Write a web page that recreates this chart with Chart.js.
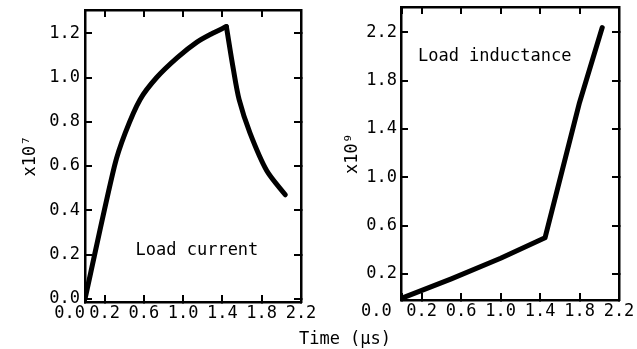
<!DOCTYPE html>
<html>
<head>
<meta charset="utf-8">
<script src="https://cdn.jsdelivr.net/npm/chart.js@4.4.1/dist/chart.umd.min.js"></script>
<style>
  html, body { margin: 0; padding: 0; background: #fff; }
  #wrap { position: relative; width: 637px; height: 349px; overflow: hidden; background: #fff; }
  canvas { position: absolute; top: 0; }
  #cvCurrent { left: 0; }
  #cvInduct { left: 320px; }
  #xTitle {
    position: absolute; top: 328px; left: 345px; transform: translateX(-50%);
    font: 17px 'DejaVu Sans Mono', monospace; line-height: 20px; color: #000; white-space: nowrap;
  }
</style>
</head>
<body>
<div id="wrap">
  <canvas id="cvCurrent" width="320" height="349"></canvas>
  <canvas id="cvInduct" width="317" height="349"></canvas>
  <div id="xTitle">Time (μs)</div>
</div>
<script>
// ─── DATA ─────────────────────────────────────────────────
const X_TICKS = [0.0, 0.2, 0.6, 1.0, 1.4, 1.8, 2.2];

// Load current (x10^7): rising part up to the peak, then the decay
const CURRENT_RISE_T = [0.00, 0.30, 0.41, 0.56, 0.73, 0.94, 1.14, 1.30, 1.44];
const CURRENT_RISE_I = [0.00, 0.60, 0.75, 0.90, 1.00, 1.09, 1.16, 1.20, 1.23];
const CURRENT_FALL_T = [1.44, 1.51, 1.57, 1.68, 1.85, 2.04];
const CURRENT_FALL_I = [1.23, 1.04, 0.90, 0.75, 0.58, 0.47];
const CURRENT_Y_TICKS = [0.0, 0.2, 0.4, 0.6, 0.8, 1.0, 1.2];

// Load inductance (x10^9)
const INDUCT_T = [0.00, 0.50, 1.00, 1.45, 1.80, 2.03];
const INDUCT_L = [0.00, 0.16, 0.33, 0.50, 1.62, 2.24];
const INDUCT_Y_TICKS = [0.2, 0.6, 1.0, 1.4, 1.8, 2.2];

// ─── STYLE ────────────────────────────────────────────────
const FONT = { family: "'DejaVu Sans Mono', monospace", size: 17 };
const INK = '#000';

const fixedTicks = (values) => (scale) => { scale.ticks = values.map(v => ({ value: v })); };
const toPoints = (xs, ys) => xs.map((x, i) => ({ x, y: ys[i] }));

// force an axis to an exact size and drop the label-overflow padding
const fixSize = (w, h) => (s) => {
    if (w !== null) s.width = w;
    if (h !== null) s.height = h;
    s.paddingLeft = s.paddingRight = s.paddingTop = s.paddingBottom = 0;
};

const gridOpts = { drawOnChartArea: false, tickLength: -7, color: INK, lineWidth: 2 };
const borderOpts = { display: true, color: INK, width: 2.5 };

function curve(points, tension) {
    return {
        data: points,
        borderColor: INK,
        borderWidth: 5,
        borderJoinStyle: 'round',
        borderCapStyle: 'round',
        pointRadius: 0,
        tension,
        fill: false,
    };
}

// text label inside the plot, placed in data units
const labelPlugin = {
    id: 'panelLabel',
    afterDatasetsDraw(chart, args, opts) {
        const { ctx, scales: { x, y } } = chart;
        ctx.save();
        ctx.font = `${FONT.size}px ${FONT.family}`;
        ctx.fillStyle = INK;
        ctx.textAlign = 'center';
        ctx.textBaseline = 'middle';
        ctx.fillText(opts.text, x.getPixelForValue(opts.x), y.getPixelForValue(opts.y));
        ctx.restore();
    },
};

function makePanel(id, p) {
    const canvas = document.getElementById(id);
    const H = canvas.height, W = canvas.width;
    return new Chart(canvas, {
        type: 'line',
        data: { datasets: p.datasets },
        plugins: [labelPlugin],
        options: {
            responsive: false,
            animation: false,
            devicePixelRatio: 1,
            layout: { padding: 0 },
            plugins: {
                legend: { display: false },
                tooltip: { enabled: false },
                panelLabel: p.label,
            },
            scales: {
                x: {
                    type: 'linear', min: p.xMin, max: 2.2,
                    afterBuildTicks: fixedTicks(X_TICKS),
                    afterFit: fixSize(null, H - p.box.bottom),
                    grid: gridOpts, border: borderOpts,
                    ticks: {
                        font: FONT, color: INK, padding: 8, autoSkip: false, maxRotation: 0, minRotation: 0,
                        callback: (v) => v === 0 ? '0.0' + ' '.repeat(p.zeroShift) : v.toFixed(1),
                    },
                },
                x2: {
                    type: 'linear', position: 'top', min: p.xMin, max: 2.2,
                    afterBuildTicks: fixedTicks(X_TICKS),
                    afterFit: fixSize(null, p.box.top),
                    grid: gridOpts, border: borderOpts,
                    ticks: { display: false },
                },
                y: {
                    type: 'linear', min: p.yMin, max: p.yMax,
                    afterBuildTicks: fixedTicks(p.yTicks),
                    afterFit: fixSize(p.box.left, null),
                    grid: gridOpts, border: borderOpts,
                    ticks: { font: FONT, color: INK, padding: p.yPad, callback: (v) => v.toFixed(1) },
                    title: { display: true, text: p.title, font: FONT, color: INK, padding: { top: p.titlePad, bottom: 0 } },
                },
                y2: {
                    type: 'linear', position: 'right', min: p.yMin, max: p.yMax,
                    afterBuildTicks: fixedTicks(p.yTicks),
                    afterFit: fixSize(W - p.box.right, null),
                    grid: gridOpts, border: borderOpts,
                    ticks: { display: false },
                },
            },
        },
    });
}

// ─── INIT ─────────────────────────────────────────────────
makePanel('cvCurrent', {
    datasets: [
        curve(toPoints(CURRENT_RISE_T, CURRENT_RISE_I), 0.3),
        curve(toPoints(CURRENT_FALL_T, CURRENT_FALL_I), 0.3),
    ],
    xMin: 0, yMin: -0.014, yMax: 1.305,
    yTicks: CURRENT_Y_TICKS,
    box: { left: 85, right: 301, top: 10, bottom: 302 },
    yPad: 12, titlePad: 20, zeroShift: 3,
    title: 'x10⁷',
    label: { text: 'Load current', x: 1.14, y: 0.217 },
});

makePanel('cvInduct', {
    datasets: [curve(toPoints(INDUCT_T, INDUCT_L), 0)],
    xMin: -0.01, yMin: -0.015, yMax: 2.41,
    yTicks: INDUCT_Y_TICKS,
    box: { left: 81, right: 299, top: 7, bottom: 300 },
    yPad: 11, titlePad: 22, zeroShift: 5,
    title: 'x10⁹',
    label: { text: 'Load inductance', x: 0.94, y: 2.0 },
});
</script>
</body>
</html>
